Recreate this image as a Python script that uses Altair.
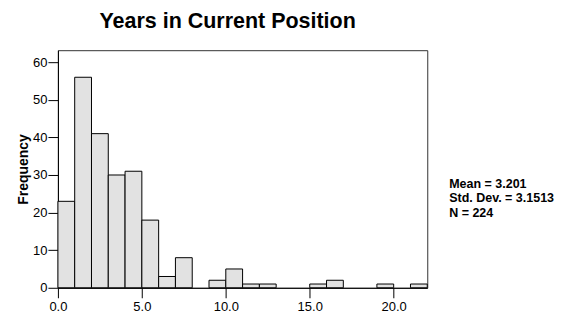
import altair as alt
import pandas as pd

bin_start = list(range(0, 22))
counts = [23, 56, 41, 30, 31, 18, 3, 8, 0, 2, 5, 1, 1, 0, 0, 1, 2, 0, 0, 1, 0, 1]
stats_lines = ["Mean = 3.201", "Std. Dev. = 3.1513", "N = 224"]
x_ticks = [0, 5, 10, 15, 20]
y_ticks = [0, 10, 20, 30, 40, 50, 60]

df = pd.DataFrame({
    "start": bin_start,
    "end": [b + 1 for b in bin_start],
    "count": counts,
})
df = df[df["count"] > 0]

stats = pd.DataFrame({"text": ["\n".join(stats_lines)]})

FONT = "Liberation Sans"

bars = alt.Chart(df).mark_rect(
    fill="#e2e2e2", stroke="#000000", strokeWidth=1
).encode(
    x=alt.X("start:Q",
            scale=alt.Scale(domain=[0, 22], nice=False, zero=False),
            axis=alt.Axis(values=x_ticks, format=".1f", title=None, grid=False,
                          tickSize=10, labelFontSize=13, labelFont=FONT,
                          labelFlush=False,
                          domainColor="#000", tickColor="#000", labelColor="#000",
                          labelPadding=3)),
    x2="end:Q",
    y=alt.Y("count:Q",
            scale=alt.Scale(domain=[0, 63.2], nice=False),
            axis=alt.Axis(values=y_ticks, title="Frequency", grid=False,
                          tickSize=10, labelFontSize=13, labelFont=FONT,
                          labelFlush=False,
                          titleFont=FONT, titleFontSize=14, titleFontWeight="bold",
                          titlePadding=2,
                          domainColor="#000", tickColor="#000", labelColor="#000",
                          titleColor="#000", labelPadding=1)),
    y2=alt.datum(0),
)

text = alt.Chart(stats).mark_text(
    align="left", baseline="top", fontSize=12.5, fontWeight="bold",
    font=FONT, color="#000", lineBreak="\n", lineHeight=14.5
).encode(
    x=alt.value(392),
    y=alt.value(128),
    text="text:N",
)

chart = alt.layer(bars, text).properties(
    width=370,
    height=238,
    title=alt.TitleParams("Years in Current Position", fontSize=21.5, fontWeight="bold",
                          font=FONT, color="#000", anchor="middle", offset=18, dx=-15),
    autosize=alt.AutoSizeParams(type="none"),
    padding={"left": 50, "top": 42, "right": 150, "bottom": 25},
).configure_view(stroke="#333333", strokeWidth=1)

chart.save("out.html", embed_options={"renderer": "svg", "actions": False})
